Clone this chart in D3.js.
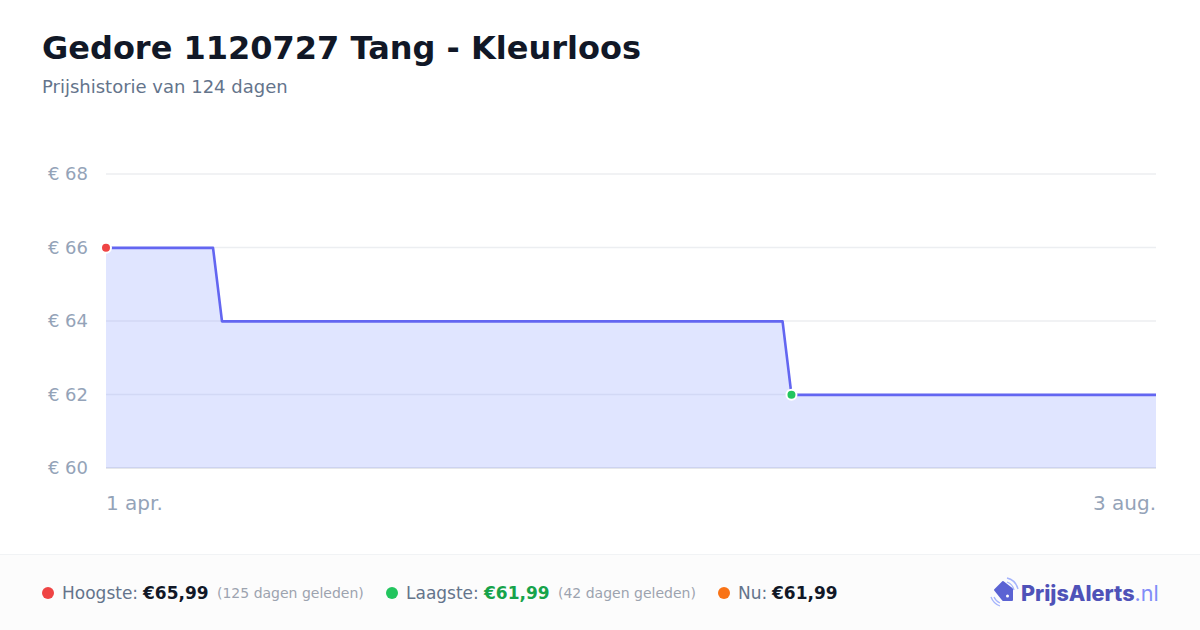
<!DOCTYPE html>
<html><head><meta charset="utf-8">
<script src="https://cdn.jsdelivr.net/npm/d3@7"></script>
<style>html,body{margin:0;padding:0;background:#fff}svg{display:block}text{font-family:"DejaVu Sans",sans-serif}</style>
</head><body><svg id="c" width="1200" height="630"></svg>
<script>
const dayOffsets=[0,12.64,13.7,79.9,80.95,124];
const prices=[65.99,65.99,63.99,63.99,61.99,61.99];
const yTicks=[60,62,64,66,68];
const xLabels=["1 apr.","3 aug."];
const title="Gedore 1120727 Tang - Kleurloos";
const subtitle="Prijshistorie van 124 dagen";
const svg=d3.select("#c");
const x=d3.scaleLinear().domain([0,124]).range([106,1156]);
const y=d3.scaleLinear().domain([60,68]).range([468,174]);
const data=dayOffsets.map((d,i)=>({d,p:prices[i]}));
svg.append("text").attr("x",42).attr("y",59).attr("font-size",32).attr("font-weight",700).attr("fill","#111827").text(title);
svg.append("text").attr("x",42).attr("y",93).attr("font-size",18).attr("fill","#64748b").text(subtitle);
// grid
svg.append("g").selectAll("line").data(yTicks).join("line")
 .attr("x1",106).attr("x2",1156).attr("y1",d=>y(d)).attr("y2",d=>y(d))
 .attr("stroke",d=>d===60?"#e5e7eb":"#eceef1").attr("stroke-width",d=>d===60?2:1.5);
svg.append("g").selectAll("text").data(yTicks).join("text")
 .attr("x",88).attr("y",d=>y(d)+6).attr("text-anchor","end").attr("font-size",18).attr("fill","#94a3b8").text(d=>"€ "+d);
svg.append("path").datum(data).attr("fill","#8da0ff").attr("fill-opacity",.27)
 .attr("d",d3.area().x(d=>x(d.d)).y0(y(60)).y1(d=>y(d.p)));
svg.append("path").datum(data).attr("fill","none").attr("stroke","#6366f1").attr("stroke-width",2.6).attr("stroke-linejoin","round")
 .attr("d",d3.line().x(d=>x(d.d)).y(d=>y(d.p)));
const markers=[{d:dayOffsets[0],p:prices[0],c:"#ef4444"},{d:dayOffsets[4],p:prices[4],c:"#22c55e"}];
svg.append("g").selectAll("circle").data(markers).join("circle")
 .attr("cx",d=>x(d.d)).attr("cy",d=>y(d.p)).attr("r",5).attr("fill",d=>d.c).attr("stroke","#fff").attr("stroke-width",2);
svg.append("text").attr("x",106).attr("y",510).attr("font-size",20).attr("fill","#94a3b8").text(xLabels[0]);
svg.append("text").attr("x",1156).attr("y",510).attr("text-anchor","end").attr("font-size",20).attr("fill","#94a3b8").text(xLabels[1]);
// footer
svg.append("rect").attr("x",0).attr("y",554).attr("width",1200).attr("height",76).attr("fill","#fcfcfc");
svg.append("line").attr("x1",0).attr("x2",1200).attr("y1",554.5).attr("y2",554.5).attr("stroke","#f1f3f5");
const fy=599;
function dot(cx,c){svg.append("circle").attr("cx",cx).attr("cy",593).attr("r",6).attr("fill",c);}
function t(xp,s,size,w,c,yy){svg.append("text").attr("x",xp).attr("y",yy||fy).attr("font-size",size).attr("font-weight",w).attr("fill",c).text(s);}
dot(48,"#ef4444");t(62,"Hoogste:",17,400,"#64748b");t(143,"€65,99",17,700,"#111827");t(217,"(125 dagen geleden)",14,400,"#9ca3af",598);
dot(392,"#22c55e");t(406,"Laagste:",17,400,"#64748b");t(484,"€61,99",17,700,"#16a34a");t(558,"(42 dagen geleden)",14,400,"#9ca3af",598);
dot(724,"#f97316");t(738,"Nu:",17,400,"#64748b");t(772,"€61,99",17,700,"#111827");
// logo
const logo=svg.append("g");
logo.append("path").attr("d","M995 590 L1003 582 L1012 589 L1012 600 L1003 600 Z").attr("fill","#5b63d3").attr("stroke","#5b63d3").attr("stroke-width",2).attr("stroke-linejoin","round");
logo.append("circle").attr("cx",1007.5).attr("cy",596).attr("r",1.5).attr("fill","#fff");
logo.append("path").attr("d","M1007 582 A 11 11 0 0 1 1014 590 M1007 578 A 15 15 0 0 1 1018 589 M994 597 A 11 11 0 0 0 1000 603 M991 597 A 15 15 0 0 0 1000 606").attr("fill","none").attr("stroke","#a5b4fc").attr("stroke-width",1.3);
const lt=svg.append("text").attr("x",1021).attr("y",600.5).attr("font-size",21.6);
lt.append("tspan").attr("font-family","Inter").attr("font-weight",800).attr("fill","#4f52b8").text("PrijsAlerts");
lt.append("tspan").attr("font-family","Inter").attr("font-weight",400).attr("fill","#818cf8").text(".nl");
</script></body></html>
